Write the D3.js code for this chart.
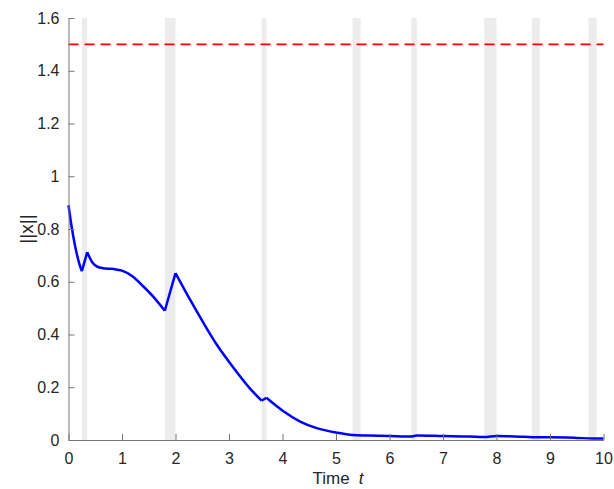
<!DOCTYPE html>
<html>
<head>
<meta charset="utf-8">
<script src="https://cdn.jsdelivr.net/npm/d3@7"></script>
<style>
  body { margin: 0; background: #fff; }
  text { font-family: "Liberation Sans", Arial, sans-serif; }
</style>
</head>
<body>
<div id="chart"></div>
<script>
// time samples and norm values
const times = [0, 0.05, 0.1, 0.15, 0.2, 0.25, 0.35, 0.45, 0.55, 0.7, 0.85, 1.0, 1.2, 1.4, 1.6, 1.8,
  2.0, 2.27, 2.52, 2.77, 3.08, 3.39, 3.61, 3.7, 4.01, 4.33, 4.64, 5.01, 5.31,
  5.6, 6.0, 6.41, 6.51, 7.0, 7.5, 7.77, 8.0, 8.5, 8.81, 9.0, 9.5, 9.8, 10];
const norms = [0.89, 0.82, 0.76, 0.71, 0.67, 0.64, 0.712, 0.672, 0.656, 0.65, 0.648, 0.642, 0.62, 0.582, 0.54, 0.49,
  0.633, 0.533, 0.445, 0.362, 0.275, 0.196, 0.149, 0.16, 0.11, 0.07, 0.045, 0.028, 0.019,
  0.017, 0.015, 0.013, 0.017, 0.015, 0.013, 0.011, 0.015, 0.012, 0.01, 0.01, 0.008, 0.006, 0.006];
// shaded intervals [start, end]
const bandStart = [0.25, 1.80, 3.61, 5.31, 6.41, 7.77, 8.66, 9.72];
const bandEnd   = [0.35, 2.00, 3.70, 5.46, 6.51, 8.00, 8.81, 9.87];
const threshold = 1.5;
const xTicks = [0, 1, 2, 3, 4, 5, 6, 7, 8, 9, 10];
const yTicks = [0, 0.2, 0.4, 0.6, 0.8, 1, 1.2, 1.4, 1.6];

const width = 614, height = 489;
const margin = { left: 68.5, right: 10.5, top: 18, bottom: 49 };

const svg = d3.select("#chart").append("svg")
  .attr("width", width)
  .attr("height", height);

const x = d3.scaleLinear().domain([0, 10]).range([margin.left, width - margin.right]);
const y = d3.scaleLinear().domain([0, 1.6]).range([height - margin.bottom, margin.top]);

// gray bands
svg.selectAll("rect.band")
  .data(bandStart)
  .enter().append("rect")
  .attr("class", "band")
  .attr("x", (d, i) => x(d))
  .attr("y", y(1.6))
  .attr("width", (d, i) => x(bandEnd[i]) - x(d))
  .attr("height", y(0) - y(1.6))
  .attr("fill", "#ececec");

// threshold line
svg.append("line")
  .attr("x1", x(0)).attr("x2", x(10))
  .attr("y1", y(threshold)).attr("y2", y(threshold))
  .attr("stroke", "#ff0000")
  .attr("stroke-width", 1.8)
  .attr("stroke-dasharray", "10,6");

// norm curve: smooth pieces, sharp corners at the kinks
const pts = times.map((t, i) => [t, norms[i]]);
const kinks = [0, 0.25, 0.35, 1.8, 2.0, 3.61, 3.7, 10];
const line = d3.line()
  .x(d => x(d[0]))
  .y(d => y(d[1]))
  .curve(d3.curveMonotoneX);

const pieces = d3.pairs(kinks).map(([a, b]) => pts.filter(p => p[0] >= a && p[0] <= b));
svg.append("path")
  .attr("d", pieces.map(p => line(p)).join(""))
  .attr("fill", "none")
  .attr("stroke", "#0000ff")
  .attr("stroke-width", 2.5)
  .attr("stroke-linejoin", "miter");

// axes, ticks pointing inward
const xAxis = svg.append("g")
  .attr("transform", `translate(0,${y(0)})`)
  .call(d3.axisBottom(x).tickValues(xTicks).tickSizeInner(-6).tickSizeOuter(0).tickPadding(13)
    .tickFormat(d3.format("d")));
const yAxis = svg.append("g")
  .attr("transform", `translate(${x(0)},0)`)
  .call(d3.axisLeft(y).tickValues(yTicks).tickSizeInner(-6).tickSizeOuter(0).tickPadding(9)
    .tickFormat(d => d3.format("~g")(d)));

[xAxis, yAxis].forEach(g => {
  g.select(".domain").attr("stroke", "#767676").attr("stroke-width", 1);
  g.selectAll(".tick line").attr("stroke", "#767676");
  g.selectAll(".tick text").attr("fill", "#262626").style("font-size", "16px")
    .style("font-family", "Liberation Sans, Arial, sans-serif");
});

// labels
const xl = svg.append("text")
  .attr("x", (x(0) + x(10)) / 2 + 2)
  .attr("y", 484)
  .attr("text-anchor", "middle")
  .attr("fill", "#262626")
  .style("font-size", "17px");
xl.append("tspan").text("Time");
xl.append("tspan").attr("dx", 9).attr("font-style", "italic").text("t");

svg.append("text")
  .attr("transform", `translate(33,${(y(0) + y(1.6)) / 2}) rotate(-90)`)
  .attr("text-anchor", "middle")
  .attr("fill", "#262626")
  .style("font-size", "19px")
  .text("||x||");
</script>
</body>
</html>
